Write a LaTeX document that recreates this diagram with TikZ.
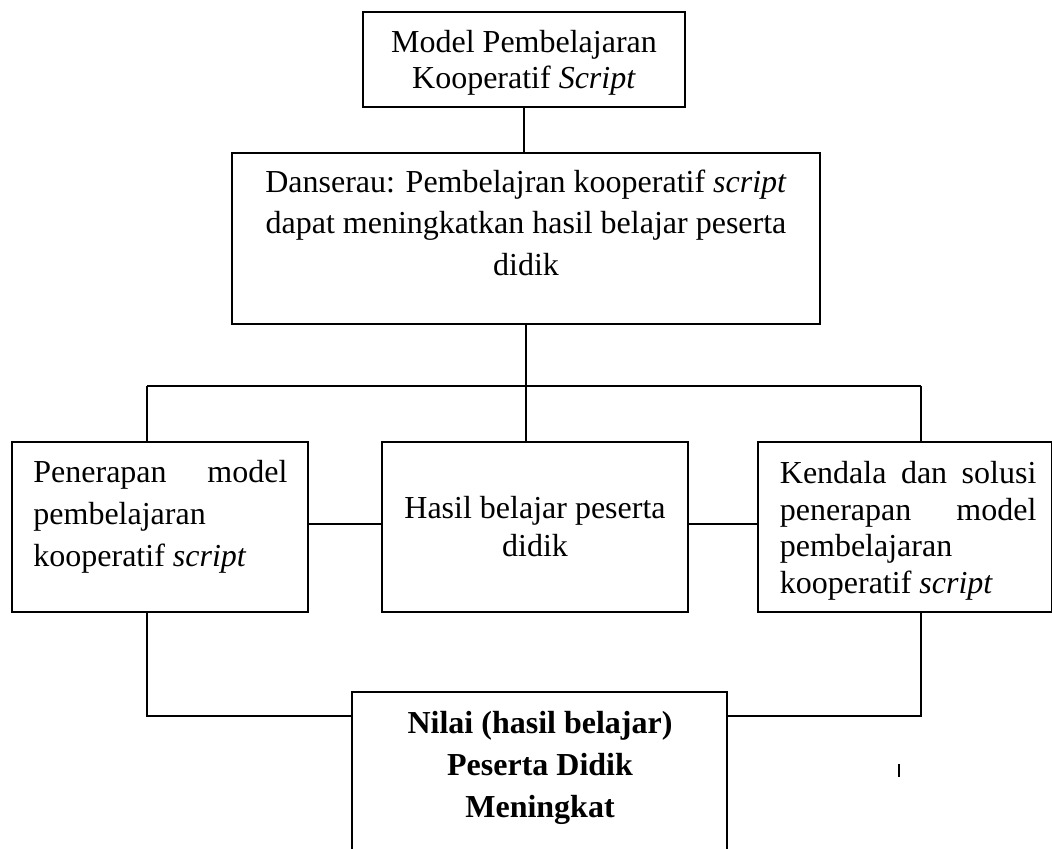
\documentclass[tikz,border=0pt]{standalone}
\usepackage{fontspec}
\setmainfont{Liberation Serif}
\usetikzlibrary{fit}
\begin{document}
\begin{tikzpicture}[x=0.5pt,y=-0.5pt,
  box/.style={draw, line width=1pt, inner sep=0pt},
  link/.style={line width=0.75pt},
  txt/.style={inner sep=0pt, anchor=base, font=\fontsize{16pt}{18pt}\selectfont},
  txtl/.style={txt, anchor=base west},
  txtb/.style={txt, font=\fontsize{16pt}{18pt}\selectfont\bfseries}]
\useasboundingbox (0,0) rectangle (1052,849);
\clip (0,0) rectangle (1052,849);
% boxes
\node[box, fit={(363.3,11.7) (685,106.7)}] (top) {};
\node[box, fit={(231.7,153) (820,324.5)}] (dans) {};
\node[box, fit={(12,441.7) (308,612)}] (left) {};
\node[box, fit={(381.7,441.7) (688.3,612)}] (mid) {};
\node[box, fit={(758.3,441.7) (1052,612)}] (right) {};
\node[box, fit={(351.7,692.3) (727.3,900)}] (bot) {};
% texts
\node[txt] (t1) at (524,53) {Model Pembelajaran};
\node[txt] (t2) at (524,89) {Kooperatif \textit{Script}};
\node[txt] (d1) at (526,192.5) {Danserau: Pembelajran kooperatif \textit{script}};
\node[txt] (d2) at (526,234) {dapat meningkatkan hasil belajar peserta};
\node[txt] (d3) at (526,276) {didik};
\node[txtl] (l1) at (33,482) {\makebox[127pt][s]{Penerapan model}};
\node[txtl] (l2) at (33,524) {pembelajaran};
\node[txtl] (l3) at (33,566) {kooperatif \textit{script}};
\node[txt] (m1) at (535,518) {Hasil belajar peserta};
\node[txt] (m2) at (535,556) {didik};
\node[txtl] (r1) at (779.5,483) {\makebox[128.25pt][s]{Kendala dan solusi}};
\node[txtl] (r2) at (779.5,520) {\makebox[128.25pt][s]{penerapan model}};
\node[txtl] (r3) at (779.5,556.7) {pembelajaran};
\node[txtl] (r4) at (779.5,593.3) {kooperatif \textit{script}};
\node[txtb] (b1) at (540,733) {Nilai (hasil belajar)};
\node[txtb] (b2) at (540,775) {Peserta Didik};
\node[txtb] (b3) at (540,817) {Meningkat};
% connectors
\coordinate (busL) at (147,386);
\coordinate (busR) at (921,386);
\coordinate (jy) at (0,524);
\coordinate (jL) at (147,716);
\coordinate (jR) at (921,716);
\draw[link] (top.south) -- (top.south |- dans.north);
\draw[link] (dans.south) -- (dans.south |- mid.north);
\draw[link] (busL) -- (busR);
\draw[link] (busL) -- (busL |- left.north);
\draw[link] (busR) -- (busR |- right.north);
\draw[link] (left.east |- jy) -- (mid.west |- jy);
\draw[link] (mid.east |- jy) -- (right.west |- jy);
\draw[link] (busL |- left.south) -- (jL) -- (jL -| bot.west);
\draw[link] (busR |- right.south) -- (jR) -- (jR -| bot.east);
% stray mark
\draw[line width=0.7pt] (899,764) -- (899,777);
\end{tikzpicture}
\end{document}
